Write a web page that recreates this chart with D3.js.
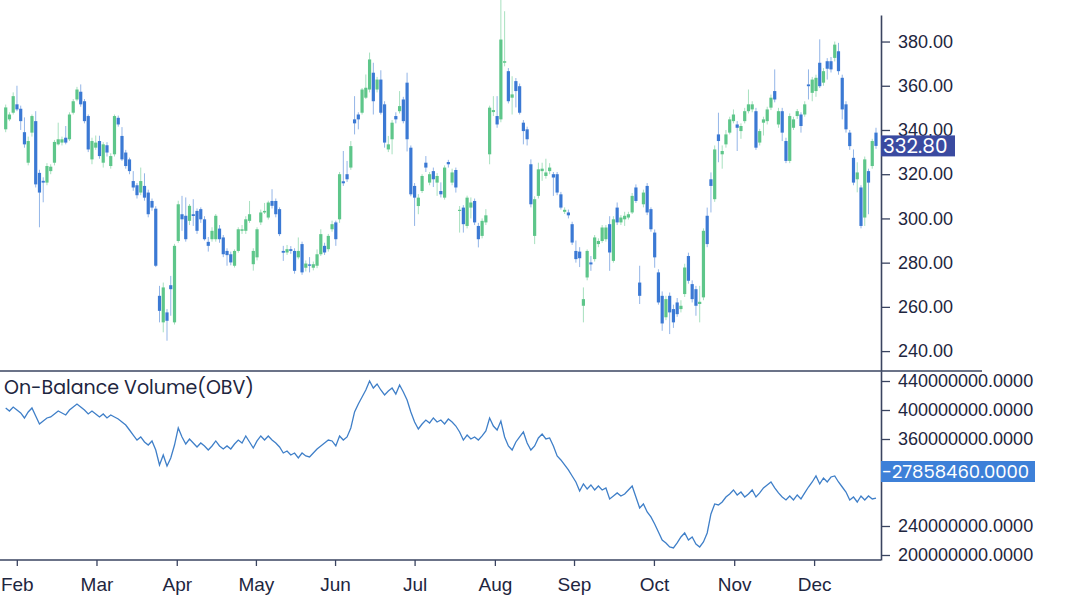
<!DOCTYPE html>
<html><head><meta charset="utf-8">
<script src="https://cdn.jsdelivr.net/npm/d3@7"></script>
<style>
html,body{margin:0;padding:0;background:#fff;}
svg{display:block;font-family:"Poppins","Inter",sans-serif;}
</style></head>
<body><svg id="c" width="1068" height="610"></svg>
<script>
const open=[340.3,344.8,347.8,351.6,349.6,339,325.2,338.8,344,320.6,317,316.2,321.4,325.2,333.5,334.3,336.5,335.8,347.8,353.8,357.3,353,346.3,326.7,332,335,325.2,333.1,323.7,329,345.5,337.3,329.8,326.7,316.9,315,311.7,314.7,311.7,307.9,304.4,265,253,257.5,269.8,253,289.8,301.9,301.2,298.9,301.9,303.4,304.2,299.6,289.4,290.6,290.6,295.4,291.4,285.3,283.8,278.6,285.3,294.4,294.4,298.9,279.3,282.4,298.2,302.7,300.4,307.9,307.9,304.2,285.3,284.6,286.1,285.3,282.4,288.4,277.7,279.2,277.7,278.6,283.8,287.6,286.1,295.1,298.2,299.6,316.8,320,323,344.8,347,347.8,354.6,358.3,365.9,358.3,362.8,351.6,331.2,335.8,346.3,348.5,353.8,361.4,332,314.7,305.6,312.4,325.2,316.2,321.4,316.2,312.4,309.4,325.5,316.2,321.9,303.4,304.9,296.6,304.9,307.9,296.6,292.1,298.2,329,348.1,346.3,344.8,370.4,366.6,354.6,362.1,359.8,343.3,340.3,324.5,292.1,310.2,321.4,319.2,321.4,320,320,310.9,303,302.7,297.4,285.3,285,260.5,273.3,280.1,281.6,288.4,289.8,290.6,297.4,280.8,304.9,298.2,299.6,300.4,302.7,314,271,306.4,314.7,304.2,293.6,275.6,265,255.3,265,259,262,259,265.8,283,270.3,268,261.3,264.3,301.2,317.7,308.7,338,329,333.5,338.8,344,342.5,339.5,344,348.5,349.3,348.5,334.3,343.3,344,350.1,357.6,342.5,348.5,335,326,341,346.3,347,347,360.6,356.8,357.6,370.4,361.4,371.1,371.1,372.6,375.6,363.6,351.6,338.8,327.4,317.7,314,300.4,321.4,323.7,338.8];
const high=[351.5,348,357,360,351,345.7,337,347,348.5,322,318.6,325,324.5,335.5,343.3,337,341.8,348,354,359.5,360.6,354,347,336.5,337.5,337.4,334.5,334.5,329.5,347,346.5,341.3,331,327.5,321.4,316,323,320.4,313,309,305.5,269.5,271,259,274,288.5,308,310.2,309.5,306.5,308.7,304.5,305,301,291.6,296,302,297,292.5,286.5,285,286,296,297,301,307.9,286.5,296,304,307,308,313.2,309,305,287.6,288,287.5,286.5,291.4,289.5,281,282.5,280.5,286,295.1,289,293,299,299,321,330.5,326,335,355.3,348,359,365.1,375,370.4,364,367,353,337.3,344.5,348,357.6,355,365.9,333,316,311,320,328.2,321,323,320.5,316.3,324,326.5,322.5,323,305.6,306,310.3,309.5,309,298,300,304.2,351,355.3,355.3,399,393.7,368,364.3,363.5,361,344.5,341.5,326.7,310,325.2,325.2,327,325,321,321,312,305,304,298.5,290,287,268.8,286,283,292.5,291,297,297,301,301,307.2,301.5,303,303,311.5,315.4,278.6,313,316,305,295,277,267,265,266.5,261,264,263,279.5,284.5,272,269.5,269.5,295.5,304.9,320.8,333,347.8,333,340,346,349.3,344,343,350,358.3,353,350,340.5,346,350.5,356,367.4,350,350,336.5,347.5,346,349.5,348,353,367.4,364,365,381,368,372.5,373,380,379.4,365,353,340,331.2,325.4,315,328,322.5,336,341];
const low=[339,344,347,348.5,340,332,324,337,314,296,307.3,315,320,324,333,333,333.5,335,347,353,350.5,343,330,324.5,331,327,323,328,322.5,328,341.5,326,322.5,320,312.5,309,310.5,308,300.5,303.5,278,253,248.5,244.7,256,252,289,294.4,289.5,297,296.6,293,298,290,285,289.5,289.5,289,282.5,278.6,278.8,277.8,284.5,293,293,298,276.4,281,297,302,299.5,304.5,300.5,292,280.8,283.5,284,275,281.5,274.5,276,275.6,276.5,277.5,283,283.5,285,294,287.6,298,314.7,316.5,322,338,340.3,347,354,357,347,357,347,332,330,329,343,347.5,343,330.3,310,296.6,301.9,311.5,321,315,314.2,310.2,309.5,308.5,323,315,311.7,293.6,293.6,295.5,300,297,286.9,291,297,324.5,346.3,341,343.5,368.8,352,347,350.2,347,333.5,333,305,288.4,309,317,318,320,310.2,310.5,304,302,300,288,280,278,253,272,276.3,280.5,287,289,289.5,276.3,280,297,297,296.6,299.5,302,307,261.3,305,301.5,294,277.7,261,249.2,254,247.7,250.5,255.5,257.5,264.5,270.5,262,256,253,263,287,302.7,307.5,325.4,322.5,332,338,343,330.5,336,343,347.5,348,331,333,337.5,342.5,349,352.5,341,335,325,325,340,345,338.8,346,353.8,353,355,359,360,362.8,366,371,365,344.8,338.8,331,315,311.8,295.5,296.6,301.9,322.5,331.5];
const close=[350.2,347,355.3,349.3,344,333.5,335,346.3,315.4,311.7,316.2,323.7,323.4,334.6,335.8,335.8,334.3,347,353,358.3,351.6,344,331.2,335,334.3,328.2,333.5,329.8,328.2,346.3,342.5,326.7,323.7,321.4,314,310.5,316.9,309.4,301.9,304.9,278.6,258.2,268.8,253.7,268,287.6,306.4,299.6,290.6,305.7,301.1,294.4,299.6,290.6,287.6,294.4,301.2,290.6,283.8,283.4,280.1,285.3,295.1,295.1,299.6,301.9,285.3,295.1,302.7,303.4,307.2,305.7,301.9,292.9,284.5,286.1,285.3,276.3,285.3,275.6,279.6,278.6,279.3,283.8,292.9,284.6,292.1,297.4,290.6,320,315.9,317.7,332.7,343,344.8,358.3,359.1,371.9,353,362.8,347.8,334.3,333.5,343.3,344.8,350.8,344,335.8,310.9,309.4,309.4,319.2,323,320,317.7,319.2,310.9,323,324.5,320.8,314,303.9,297.4,309.4,307.2,298.2,290.6,298.9,301.4,350.1,349,342.5,380.9,371.1,353,356.1,357.6,347.8,339.5,335.8,306.4,308.7,322.2,322.5,320.8,323,318.5,311.7,304.9,303.9,301.4,289.1,281.6,282,263.5,285.3,279.2,291.4,289.8,295.9,295.9,284.6,299.6,298.2,300.4,301.2,301.9,310.2,307.9,265,311.7,302.7,295.1,282.4,262,252.5,263.5,257.5,253,256.7,260.5,277.8,271.8,263.5,260.5,262.3,294.4,288.4,314.7,331.2,335,330.5,338,344.8,347,341,341.8,348.5,351.6,351.6,332,339.5,344.8,349.3,354.6,353.8,348.5,338.8,326,346.3,344.8,348.5,341.8,351.6,359.8,362.8,363.6,359.8,366.6,367.7,367.4,378.6,366.6,349.3,340.3,332.7,316.2,320.8,296.6,326.7,316.2,335,332.8];
// On-Balance Volume, in millions
const obvMillions=[402.8,398.6,404.1,400.0,395.9,389.0,397.3,402.8,391.7,380.7,384.8,389.0,390.4,394.5,398.6,395.9,393.1,400.0,404.1,408.3,404.1,400.0,394.5,398.6,394.5,390.4,394.5,389.0,393.1,390.4,387.6,383.5,379.3,372.4,365.5,358.6,362.8,355.9,351.7,357.3,344.8,324.2,337.9,322.8,333.8,351.7,375.2,362.8,353.1,360.0,354.5,349.0,354.5,350.4,344.8,350.4,357.3,350.4,346.2,350.4,346.2,353.1,358.6,354.5,364.2,355.9,347.6,357.3,364.2,358.6,364.2,358.6,354.5,349.0,340.7,343.5,338.0,340.7,333.8,340.7,336.6,335.2,340.7,346.2,350.4,354.5,358.6,357.3,350.4,364.2,358.6,362.8,375.2,397.3,408.3,417.9,427.6,440.0,430.3,435.9,427.6,420.7,426.2,430.3,422.1,434.5,424.8,413.8,397.3,383.5,373.8,380.7,386.2,382.1,389.0,383.5,386.2,380.7,387.6,383.5,377.9,369.7,358.6,365.5,360.0,362.8,358.6,364.2,371.1,389.0,377.9,372.4,384.8,362.8,350.4,344.8,355.9,362.8,369.7,354.5,344.8,350.4,361.4,366.9,360.0,361.4,350.4,336.6,331.1,324.2,317.3,309.0,300.7,288.3,298.0,291.1,296.6,289.7,295.2,289.7,292.5,277.3,281.4,285.6,281.4,284.2,289.7,295.2,280.0,264.9,270.4,259.4,252.5,242.8,231.8,220.7,216.6,211.1,209.7,216.6,224.9,230.4,220.7,224.9,215.2,211.1,218.0,230.4,256.6,270.4,269.0,273.1,280.0,284.2,289.7,282.8,286.9,280.0,284.2,289.7,280.0,285.6,292.5,296.6,300.7,292.5,285.6,280.0,275.9,281.4,275.9,282.8,277.3,285.6,293.8,300.7,309.0,298.0,306.2,300.7,307.6,309.0,300.7,293.8,286.9,275.9,280.0,273.1,281.4,275.9,281.4,277.3,278.6];
const monthLabels=["Feb","Mar","Apr","May","Jun","Jul","Aug","Sep","Oct","Nov","Dec"];
const monthTickIndex=[2.96,24.2,45.6,66.7,87.8,109.0,130.4,151.5,172.8,194.2,215.5];
const priceTicks=[240,260,280,300,320,340,360,380];
const obvTicks=[200e6,240e6,360e6,400e6,440e6];
const lastPriceLabel="332.80";
const obvLabel="-27858460.0000";

const UP="#5ec68a", DOWN="#3b79d4", AX="#3a4460", TXT="#1e2640";
const svg=d3.select("#c");
const n=close.length;
const x=d3.scaleLinear().domain([0,n-1]).range([5.7,876]);
const yP=d3.scaleLinear().domain([231,392]).range([371,15]);
const yO=d3.scaleLinear().domain([193.1e6,453.8e6]).range([560,371]);

const candles=d3.range(n).map(i=>({i,o:open[i],h:high[i],l:low[i],c:close[i]}));
const g=svg.append("g");
g.selectAll("line.w").data(candles).join("line")
  .attr("x1",d=>x(d.i)).attr("x2",d=>x(d.i))
  .attr("y1",d=>yP(d.h)).attr("y2",d=>yP(d.l))
  .attr("stroke",d=>d.c>=d.o?UP:DOWN).attr("stroke-opacity",0.55).attr("stroke-width",1);
g.selectAll("rect.b").data(candles).join("rect")
  .attr("x",d=>x(d.i)-1.6).attr("width",3.2)
  .attr("y",d=>yP(Math.max(d.o,d.c)))
  .attr("height",d=>Math.max(1.2,Math.abs(yP(d.o)-yP(d.c))))
  .attr("fill",d=>d.c>=d.o?UP:DOWN);

// OBV line
const obv=obvMillions.map(v=>v*1e6);
svg.append("path").datum(obv)
  .attr("d",d3.line().x((d,i)=>x(i)).y(d=>yO(d)))
  .attr("fill","none").attr("stroke","#3f7fc8").attr("stroke-width",1.3);

// axes
const fmtP=d3.format(".2f"), fmtO=d3.format(".4f");
const aP=svg.append("g").attr("transform","translate(881,0)")
  .call(d3.axisRight(yP).tickValues(priceTicks).tickFormat(fmtP).tickSize(9).tickPadding(8).tickSizeOuter(0));
const aO=svg.append("g").attr("transform","translate(881,0)")
  .call(d3.axisRight(yO).tickValues(obvTicks).tickFormat(fmtO).tickSize(9).tickPadding(8).tickSizeOuter(0));
const aX=svg.append("g").attr("transform","translate(0,560)")
  .call(d3.axisBottom(x).tickValues(monthTickIndex).tickFormat((d,i)=>monthLabels[i]).tickSize(6).tickPadding(12).tickSizeOuter(0));
aX.select(".domain").remove();
[aP,aO,aX].forEach(a=>{
  a.selectAll("path.domain").attr("stroke",AX).attr("stroke-width",1.6);
  a.selectAll(".tick line").attr("stroke",AX).attr("stroke-width",1.3);
  a.selectAll(".tick text").attr("fill",TXT).style("font-size","18px");
});
aX.selectAll(".tick text").style("font-size","19px");
svg.append("line").attr("x1",0).attr("x2",881).attr("y1",560).attr("y2",560).attr("stroke",AX).attr("stroke-width",1.6);
svg.append("line").attr("x1",0).attr("x2",982).attr("y1",371).attr("y2",371).attr("stroke",AX).attr("stroke-width",1.6);

svg.append("text").attr("x",4).attr("y",394).attr("fill",TXT).style("font-size","19px").text("On-Balance Volume(OBV)");

// last-price label
const yl=yP(close[n-1]);
svg.append("rect").attr("x",881).attr("y",yl-10.5).attr("width",74).attr("height",21).attr("fill","#3a4aa0");
svg.append("text").attr("x",883).attr("y",yl+7).attr("fill","#fff").style("font-size","20px").text(lastPriceLabel);
// OBV label
svg.append("rect").attr("x",881).attr("y",461).attr("width",154).attr("height",21).attr("fill","#3d80d8");
svg.append("text").attr("x",882).attr("y",478).attr("fill","#fff").style("font-size","18px").text(obvLabel);
</script></body></html>
